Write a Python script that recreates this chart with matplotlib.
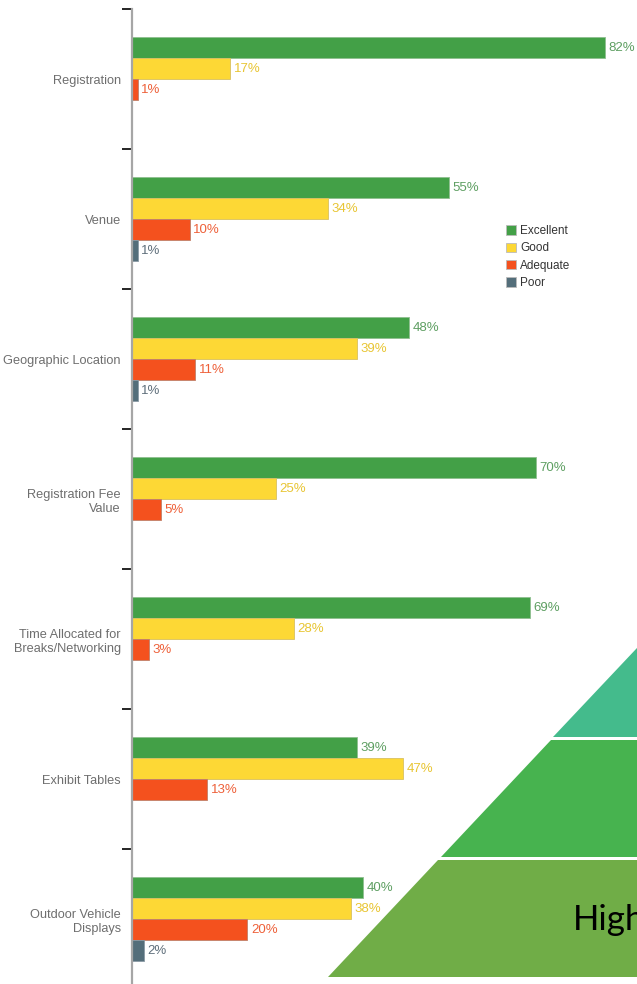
import numpy as np
from matplotlib import pyplot as plt
from matplotlib.patches import Patch, Polygon

categories = ["Registration", "Venue", "Geographic Location", "Registration Fee\nValue",
              "Time Allocated for\nBreaks/Networking", "Exhibit Tables", "Outdoor Vehicle\nDisplays"]
series_names = ["Excellent", "Good", "Adequate", "Poor"]
excellent = [82, 55, 48, 70, 69, 39, 40]
good = [17, 34, 39, 25, 28, 47, 38]
adequate = [1, 10, 11, 5, 3, 13, 20]
poor = [0, 1, 1, 0, 0, 0, 2]

bar_colors = ["#43A047", "#FDD835", "#F4511E", "#546E7A"]
label_colors = ["#5E9F62", "#E8C533", "#EE6039", "#5F6F7B"]
edge_colors = ["#8FBF8F", "#D9C060", "#C0806A", "#8A9AA5"]

# pyramid layers (pixel rows of each slice, from top to bottom)
layer_tops = [560, 740, 860]
layer_bottoms = [737, 857, 977]
layer_colors = ["#44BB8C", "#47B34F", "#70AD47"]

FONT = ["Liberation Sans Narrow", "Liberation Sans", "DejaVu Sans"]

W, H = 637, 984
fig = plt.figure(figsize=(W / 100, H / 100), dpi=100)

px_per_pct = 5.77
left_px, top_px, band_px = 132, 9, 140
ax = fig.add_axes([left_px / W, 1 - (top_px + band_px * len(categories)) / H,
                   (W - left_px) / W, band_px * len(categories) / H])

values = [excellent, good, adequate, poor]
y = np.arange(len(categories))
h = 0.15
for j, vals in enumerate(values):
    pos = y + (j - 1.5) * h
    ax.barh(pos, vals, height=h, color=bar_colors[j], edgecolor=edge_colors[j],
            linewidth=0.6, label=series_names[j])
    for yy, v in zip(pos, vals):
        if v > 0:
            ax.text(v + 0.6, yy, f"{v}%", va="center", ha="left", fontsize=9.5,
                    color=label_colors[j], family=FONT)

ax.set_xlim(0, (W - left_px) / px_per_pct)
ax.set_ylim(len(categories) - 0.5, -0.5)

ax.set_yticks(np.arange(len(categories) + 1) - 0.5)
ax.set_yticklabels([])
ax.set_yticks(y, minor=True)
ax.set_yticklabels(categories, minor=True, fontsize=9.2, color="#6e6e6e", family=FONT,
                   ha="right", linespacing=1.25)
ax.tick_params(axis="y", which="major", length=7, width=1.2, color="black", direction="out")
ax.tick_params(axis="y", which="minor", length=0, pad=8)
ax.set_xticks([])
for s in ["top", "right", "bottom"]:
    ax.spines[s].set_visible(False)
ax.spines["left"].set_color("#a6a6a6")
ax.spines["left"].set_linewidth(1.6)

handles = [Patch(facecolor=c, edgecolor="#bbbbbb", linewidth=0.6) for c in bar_colors]
fig.legend(handles, series_names, loc="upper left", bbox_to_anchor=(506 / W, 1 - 225 / H),
           frameon=False, handlelength=0.85, handleheight=0.85,
           handletextpad=0.35, labelspacing=0.45, borderpad=0, borderaxespad=0,
           prop={"family": FONT, "size": 8.5}, labelcolor="#333333")

# pyramid overlay drawn in pixel space
ov = fig.add_axes([0, 0, 1, 1])
ov.set_xlim(0, W)
ov.set_ylim(H, 0)
ov.axis("off")
slope = 0.94
for t, b, c in zip(layer_tops, layer_bottoms, layer_colors):
    xt = 637 - slope * (t - 648)
    xb = 637 - slope * (b - 648)
    ov.add_patch(Polygon([(xt, t), (W + 200, t), (W + 200, b), (xb, b)], closed=True,
                         facecolor=c, edgecolor="none"))
ov.text(573, 930, "High", fontsize=25, family=["Lato", "DejaVu Sans"], color="black",
        ha="left", va="baseline")

fig.savefig("out.png", dpi=100)
